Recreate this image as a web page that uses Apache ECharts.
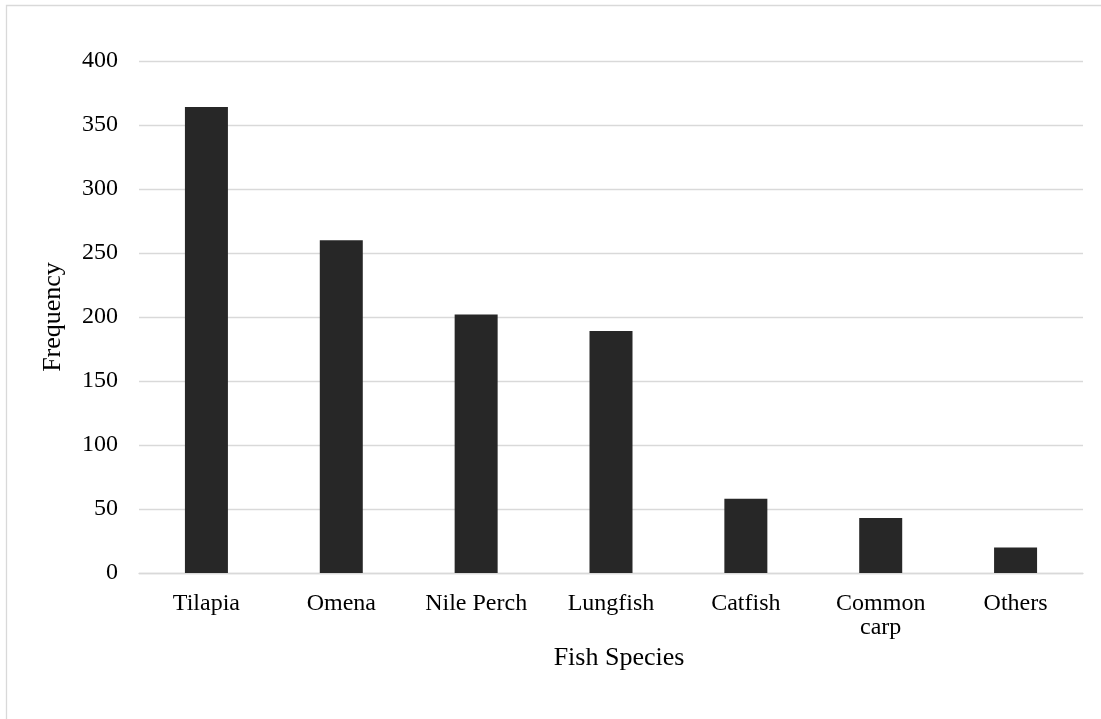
<!DOCTYPE html>
<html>
<head>
<meta charset="utf-8">
<title>Fish Species Frequency</title>
<script src="https://cdn.jsdelivr.net/npm/echarts@6/dist/echarts.min.js"></script>
<style>
  html, body { margin: 0; padding: 0; background: #ffffff; }
  #chart { width: 1101px; height: 719px; }
</style>
</head>
<body>
<div id="chart"></div>
<script>
// Catch counts by species
const species = ['Tilapia', 'Omena', 'Nile Perch', 'Lungfish', 'Catfish', 'Common\ncarp', 'Others'];
const frequency = [364, 260, 202, 189, 58, 43, 20];
const yTicks = [0, 50, 100, 150, 200, 250, 300, 350, 400];

const serif = '"Liberation Serif", "Times New Roman", serif';
const gridGray = '#d9d9d9';

const chart = echarts.init(document.getElementById('chart'), null, { renderer: 'canvas' });

chart.setOption({
  backgroundColor: '#ffffff',
  animation: false,
  graphic: [{
    type: 'rect',
    silent: true,
    shape: { x: 6.5, y: 5.5, width: 1200, height: 800 },
    style: { fill: 'none', stroke: gridGray, lineWidth: 1.3 }
  }],
  grid: { left: 139, right: 18, top: 61, bottom: 146 },
  xAxis: {
    type: 'category',
    data: species,
    name: 'Fish Species',
    nameLocation: 'middle',
    nameGap: 72,
    nameTextStyle: { fontFamily: serif, fontSize: 26, color: '#000', padding: [0, 0, 0, 16] },
    axisLine: { lineStyle: { color: gridGray, width: 1.3 } },
    axisTick: { show: false },
    axisLabel: {
      fontFamily: serif, fontSize: 24, color: '#000',
      margin: 19, lineHeight: 24, interval: 0
    }
  },
  yAxis: {
    type: 'value',
    min: yTicks[0],
    max: yTicks[yTicks.length - 1],
    interval: yTicks[1] - yTicks[0],
    name: 'Frequency',
    nameLocation: 'middle',
    nameGap: 73,
    nameRotate: 90,
    nameTextStyle: { fontFamily: serif, fontSize: 26, color: '#000' },
    axisLine: { show: false },
    axisTick: { show: false },
    axisLabel: { fontFamily: serif, fontSize: 24, color: '#000', margin: 21 },
    splitLine: { lineStyle: { color: gridGray, width: 1.3 } }
  },
  series: [{
    type: 'bar',
    data: frequency,
    barWidth: 43,
    itemStyle: { color: '#272727' }
  }]
});
</script>
</body>
</html>
